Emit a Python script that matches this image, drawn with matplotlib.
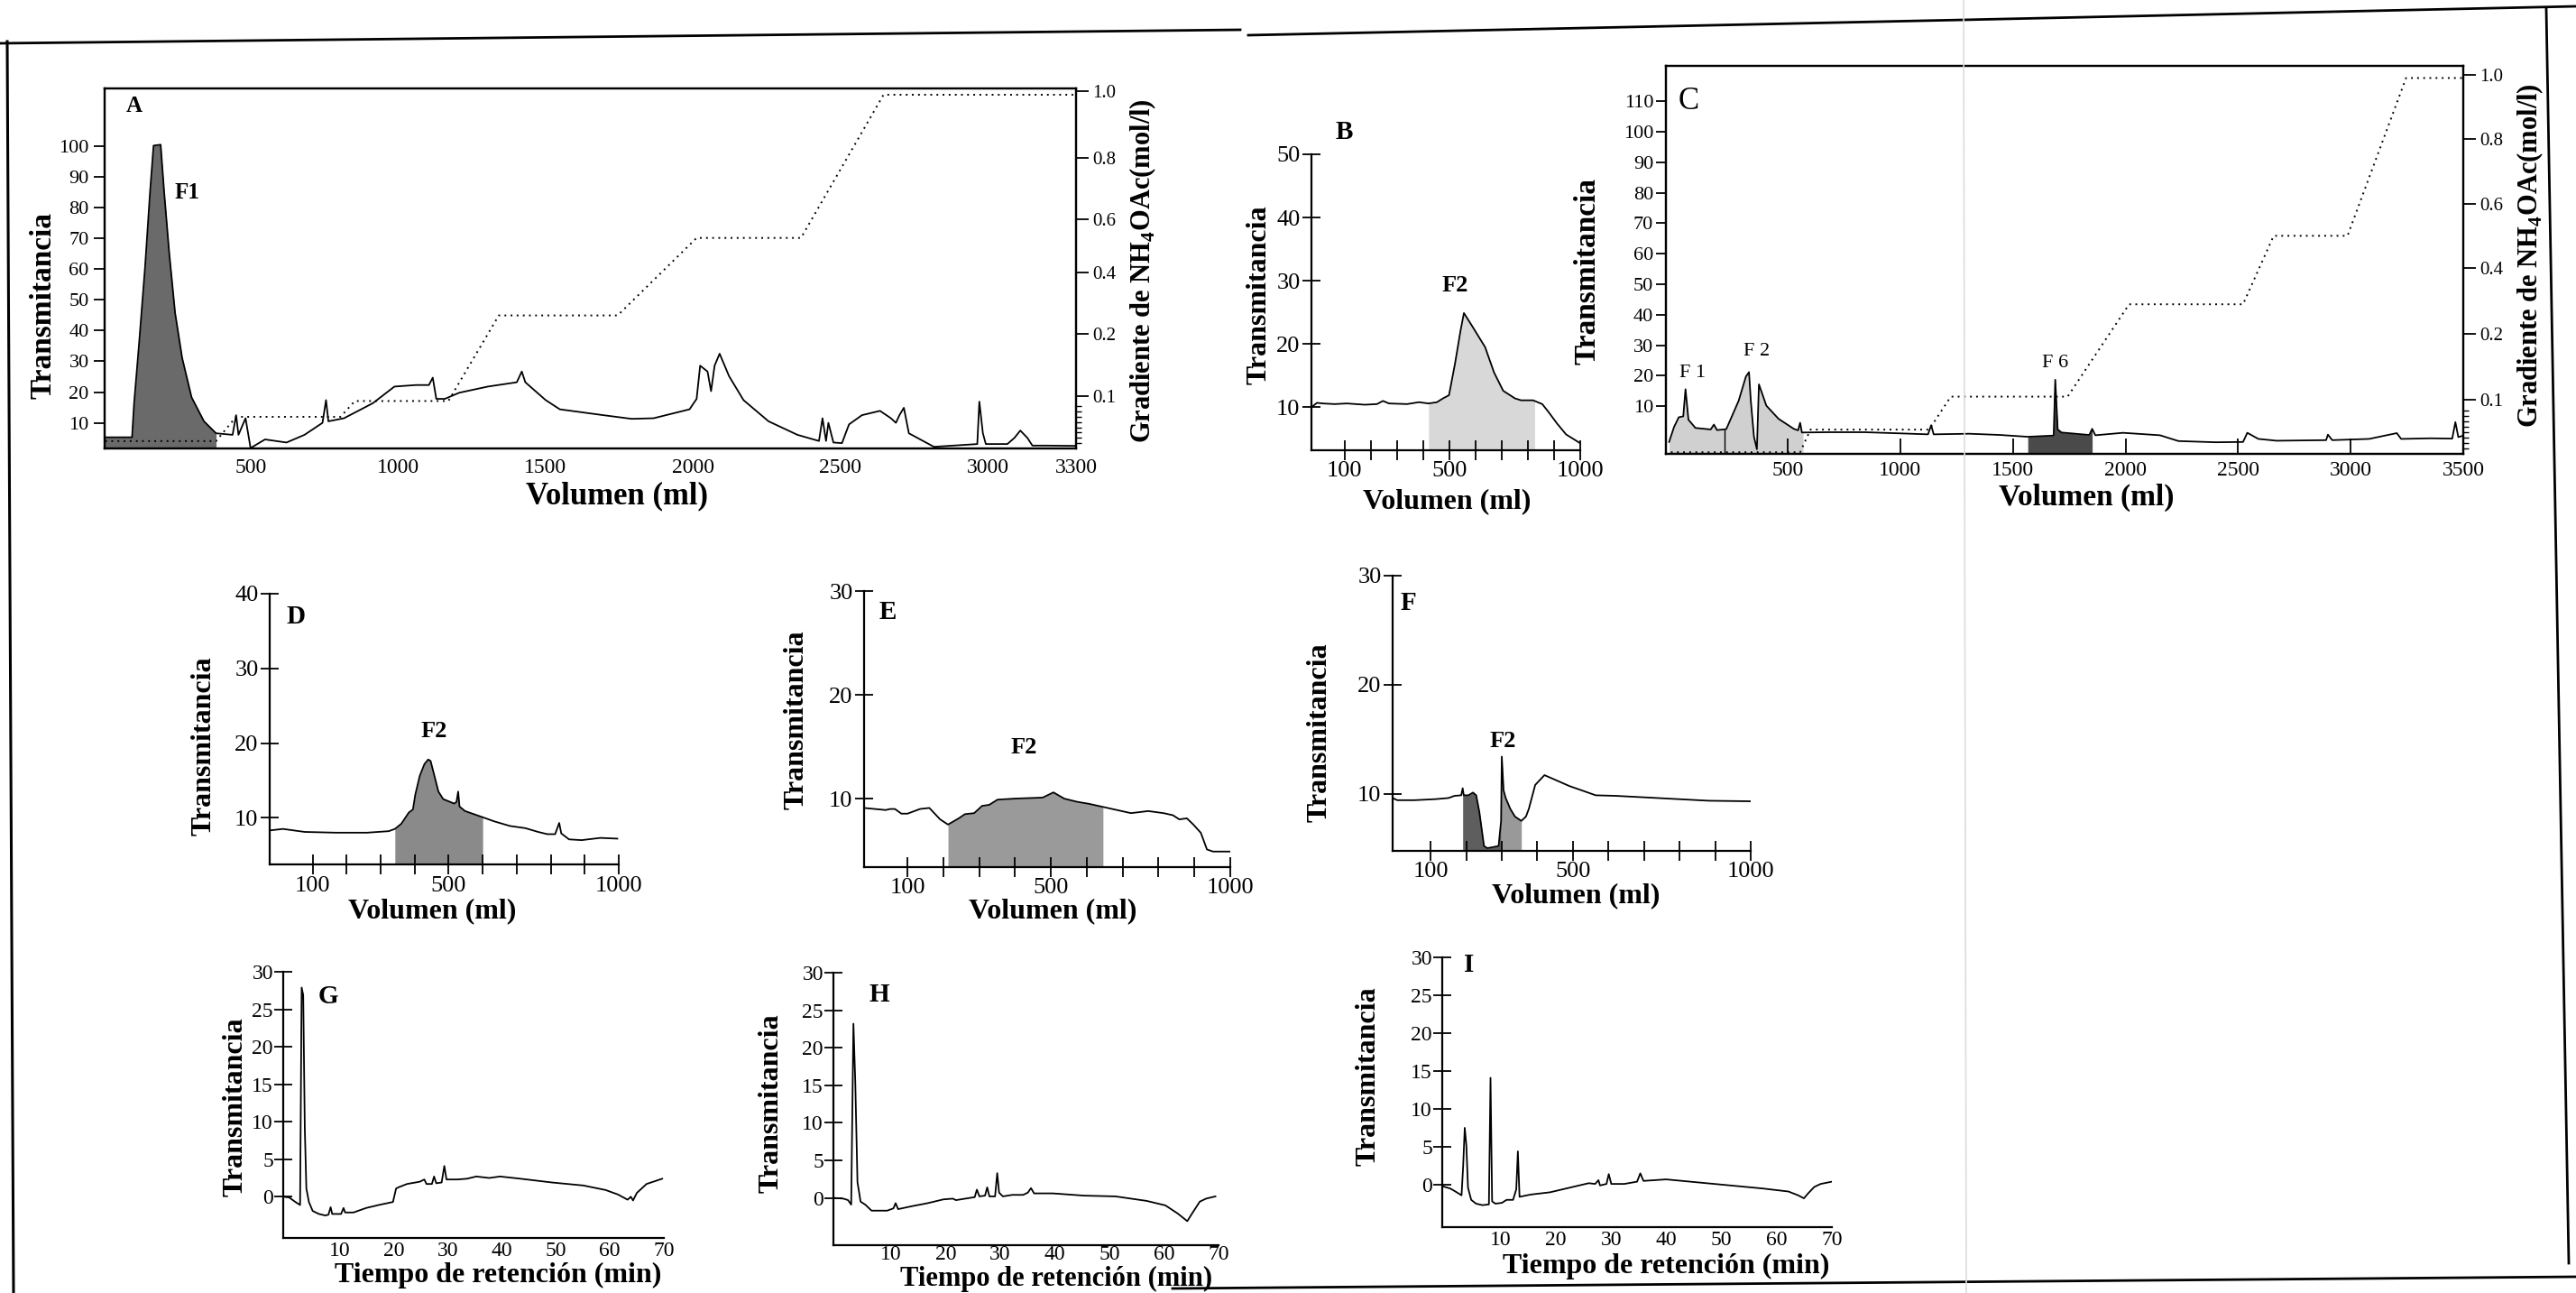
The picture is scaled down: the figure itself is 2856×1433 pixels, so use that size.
import numpy as np
import matplotlib
matplotlib.use("Agg")
import matplotlib.pyplot as plt
from matplotlib.lines import Line2D
from matplotlib.ticker import NullFormatter

plt.rcParams['font.family'] = ['Liberation Serif', 'DejaVu Serif']
plt.rcParams['mathtext.fontset'] = 'custom'
plt.rcParams['mathtext.rm'] = 'Liberation Serif'
plt.rcParams['mathtext.bf'] = 'Liberation Serif:bold'
plt.rcParams['axes.linewidth'] = 1.6

# ---------------- data ----------------
# Panel A
A_VOL = [7, 98, 105, 122, 142, 159, 171, 195, 207, 224,
         244, 268, 300, 342, 383, 439, 451, 459, 483, 500,
         549, 622, 683, 744, 756, 764, 817, 915, 988, 1061,
         1105, 1118, 1130, 1159, 1208, 1305, 1403, 1420, 1432, 1501,
         1549, 1696, 1793, 1867, 1989, 2013, 2025, 2050, 2062, 2074,
         2091, 2123, 2172, 2257, 2355, 2428, 2440, 2452, 2460, 2477,
         2506, 2530, 2574, 2635, 2672, 2689, 2701, 2716, 2733, 2818,
         2965, 2972, 2984, 2994, 3067, 3091, 3111, 3135, 3152, 3204,
         3300]
A_T = [5.3, 5.3, 16.4, 36.0, 60.5, 85.0, 100.2, 100.5, 85.0, 65.4,
       45.8, 31.1, 18.3, 10.5, 6.6, 6.1, 12.5, 6.1, 11.5, 1.8,
       4.6, 3.6, 6.1, 10.0, 17.4, 10.5, 11.5, 16.4, 21.8, 22.3,
       22.3, 24.7, 17.8, 17.8, 19.8, 21.8, 23.2, 26.7, 23.2, 17.4,
       14.4, 12.5, 11.3, 11.5, 14.4, 17.8, 28.6, 26.7, 20.3, 28.6,
       32.5, 25.2, 17.4, 10.5, 6.1, 4.1, 11.5, 4.1, 10.0, 3.6,
       3.4, 9.5, 12.5, 13.9, 11.5, 10.0, 12.5, 14.9, 6.6, 2.2,
       3.1, 16.9, 6.6, 3.1, 3.1, 5.1, 7.5, 5.1, 2.6, 2.6,
       2.5]
A_F1_RANGE = (0, 383)
A_GRAD_VOL = [7, 383, 451, 805, 854, 1171, 1342, 1745, 2013, 2367, 2647, 3300]
A_GRAD_LEVEL = [0.014, 0.014, 0.06, 0.06, 0.09, 0.09, 0.26, 0.26, 0.53, 0.53, 0.99, 0.99]
A_GRAD_TICKVALS = [0, 0.1, 0.2, 0.4, 0.6, 0.8, 1.0, 1.2]
A_GRAD_TICKFRAC = [0, 0.1464, 0.318, 0.4895, 0.636, 0.8075, 0.9916, 1.16]

# Panel B
B_VOL = [-26, -5, 17, 63, 109, 178, 224, 247, 270, 339,
         384, 421, 453, 476, 499, 522, 543, 556, 591, 637,
         671, 706, 751, 774, 820, 855, 878, 912, 946, 981, 1000]
B_T = [10.0, 10.7, 10.6, 10.5, 10.6, 10.4, 10.5, 11.0, 10.6, 10.5,
       10.8, 10.6, 10.8, 11.4, 11.9, 16.9, 22.1, 24.9, 22.6, 19.5,
       15.5, 12.6, 11.4, 11.1, 11.1, 10.5, 9.3, 7.4, 5.7, 4.8, 4.3]
B_F2_RANGE = (421, 826)

# Panel C
C_VOL = [-27, -5, 16, 36, 46, 59, 90, 158, 172, 186,
         227, 246, 282, 314, 328, 336, 350, 363, 372, 405,
         459, 527, 546, 555, 563, 678, 842, 1006, 1123, 1137,
         1148, 1306, 1443, 1566, 1681, 1688, 1699, 1716, 1839, 1852,
         1866, 1989, 2153, 2235, 2399, 2522, 2541, 2590, 2672, 2891,
         2899, 2918, 3082, 3205, 3224, 3356, 3451, 3465, 3478, 3497]
C_T = [-1.7, 3.2, 6.4, 6.7, 15.6, 5.6, 2.9, 2.4, 4.0, 2.2,
       2.5, 5.7, 11.8, 19.7, 21.2, 11.8, 0.0, -4.1, 17.2, 10.2,
       5.9, 2.6, 2.1, 4.6, 1.4, 1.5, 1.5, 1.1, 0.8, 3.8,
       0.8, 1.0, 0.6, 0.0, 0.4, 18.7, 2.4, 1.4, 0.6, 2.6,
       0.5, 1.3, 0.5, -1.4, -1.8, -1.7, 1.3, -0.7, -1.3, -1.1,
       0.7, -1.1, -0.7, 1.2, -0.7, -0.5, -0.6, 4.8, -0.1, 0.3]
C_F12_RANGE = (-27, 568)
C_F6_RANGE = (1566, 1852)
C_CUT = 221
C_GRAD_VOL = [-19, 555, 601, 1128, 1224, 1743, 2016, 2522, 2658, 2986, 3246, 3497]
C_GRAD_LEVEL = [0.003, 0.003, 0.045, 0.045, 0.105, 0.105, 0.29, 0.29, 0.50, 0.50, 0.99, 0.99]
C_GRAD_TICKVALS = [0, 0.1, 0.2, 0.4, 0.6, 0.8, 1.0, 1.2]
C_GRAD_TICKFRAC = [0, 0.139, 0.309, 0.479, 0.645, 0.811, 0.977, 1.143]

# Panel D
D_VOL = [-26, 13, 77, 169, 260, 324, 342, 361, 383, 395,
         402, 415, 429, 440, 447, 456, 470, 484, 516, 523,
         528, 532, 548, 598, 635, 680, 726, 763, 790, 813,
         825, 831, 854, 891, 946, 996]
D_T = [8.3, 8.5, 8.1, 8.0, 8.0, 8.2, 8.5, 9.2, 10.7, 11.1,
       13.1, 15.6, 17.2, 17.8, 17.6, 16.0, 13.5, 12.5, 11.9, 12.1,
       13.5, 11.5, 10.9, 10.1, 9.5, 8.9, 8.6, 8.1, 7.8, 7.8,
       9.3, 7.9, 7.1, 7.0, 7.3, 7.2]
D_F2_RANGE = (342, 600)

# Panel E
E_VOL = [-21, 9, 39, 52, 65, 83, 100, 135, 161, 191,
         213, 243, 260, 286, 308, 328, 351, 399, 477, 507,
         537, 572, 606, 645, 684, 723, 771, 814, 840, 858,
         879, 897, 918, 935, 952, 998]
E_T = [9.1, 9.0, 8.9, 9.0, 9.0, 8.55, 8.55, 9.0, 9.1, 8.0,
       7.5, 8.1, 8.5, 8.6, 9.3, 9.4, 9.9, 10.0, 10.1, 10.6,
       10.0, 9.7, 9.5, 9.2, 8.9, 8.6, 8.8, 8.6, 8.4, 8.0,
       8.1, 7.5, 6.7, 5.1, 4.9, 4.9]
E_F2_RANGE = (213, 645)

# Panel F
F_VOL = [-7, 6, 54, 115, 150, 167, 186, 190, 193, 206,
         219, 228, 237, 250, 259, 276, 291, 298, 300, 305,
         311, 324, 337, 355, 368, 376, 394, 420, 455, 490,
         525, 564, 620, 708, 795, 882, 1000]
F_T = [9.6, 9.4, 9.4, 9.5, 9.6, 9.8, 9.85, 10.5, 9.85, 9.85,
       10.1, 9.85, 8.3, 5.2, 5.0, 5.1, 5.2, 7.5, 13.4, 10.3,
       9.6, 8.6, 7.9, 7.5, 7.9, 8.6, 10.8, 11.7, 11.2, 10.7,
       10.3, 9.85, 9.8, 9.65, 9.5, 9.35, 9.3]
F_F2_RANGE_A = (190, 298)
F_F2_RANGE_B = (298, 355)

# Panel G
G_TIME = [-0.4, 0.7, 1.85, 2.72, 3.01, 3.30, 3.59, 3.88, 4.35, 5.05,
          6.21, 7.38, 7.96, 8.37, 8.66, 10.3, 10.76, 11.05, 12.6, 14.95,
          17.28, 19.9, 20.48, 21.07, 22.5, 24.85, 25.7, 26.1, 27.1, 27.5,
          27.9, 28.9, 29.4, 29.8, 31.8, 33.6, 35.3, 37.7, 39.7, 43.5,
          49.3, 55.1, 59.2, 61.5, 63.3, 63.9, 64.3, 65.0, 66.8, 69.7]
G_T = [0.0, -0.1, -0.7, -1.1, 27.9, 26.9, 9.2, 1.1, -0.7, -1.9,
       -2.3, -2.5, -2.4, -1.4, -2.3, -2.3, -1.5, -2.1, -2.1, -1.5,
       -1.1, -0.7, 1.1, 1.3, 1.7, 2.0, 2.3, 1.7, 1.7, 2.7,
       1.8, 1.9, 4.1, 2.3, 2.3, 2.4, 2.7, 2.5, 2.7, 2.4,
       1.9, 1.5, 0.9, 0.3, -0.4, 0.0, -0.5, 0.5, 1.7, 2.4]

# Panel H
H_TIME = [-0.6, 1.23, 2.09, 2.66, 3.07, 3.41, 3.81, 4.38, 5.24, 6.39,
          9.25, 10.4, 10.8, 11.26, 13.84, 16.7, 19.57, 21.29, 21.86, 23.58,
          25.3, 25.7, 26.16, 27.19, 27.59, 27.99, 29.03, 29.43, 29.77, 30.46,
          32.18, 34.18, 35.04, 35.62, 36.19, 39.63, 45.36, 51.09, 56.82, 60.26,
          62.55, 64.27, 65.13, 66.56, 67.71, 69.43]
H_T = [0.0, -0.1, -0.3, -0.9, 23.2, 15.4, 2.1, -0.5, -0.9, -1.7,
       -1.7, -1.4, -0.7, -1.5, -1.1, -0.7, -0.2, -0.1, -0.3, -0.1,
       0.1, 1.1, 0.2, 0.3, 1.4, 0.2, 0.2, 3.3, 0.7, 0.2,
       0.4, 0.4, 0.7, 1.3, 0.6, 0.6, 0.3, 0.2, -0.4, -1.0,
       -2.1, -3.1, -2.1, -0.5, -0.1, 0.2]

# Panel I
I_TIME = [-0.62, 0.83, 2.0, 2.88, 3.17, 3.46, 3.75, 4.05, 4.63, 5.5,
          6.67, 7.84, 8.13, 8.42, 9.0, 10.18, 11.05, 12.22, 12.8, 13.09,
          13.39, 15.43, 18.93, 22.43, 25.94, 27.1, 27.69, 27.98, 29.15, 29.56,
          30.02, 32.36, 34.69, 35.28, 35.86, 39.95, 45.79, 51.62, 57.46, 62.13,
          63.88, 64.93, 65.63, 66.8, 67.97, 70.0]
I_T = [-0.2, -0.5, -1.0, -1.4, 2.4, 7.5, 5.2, -0.4, -2.0, -2.5,
       -2.7, -2.6, 14.1, -2.2, -2.5, -2.4, -2.0, -2.0, -0.6, 4.4,
       -1.6, -1.3, -1.0, -0.4, 0.2, 0.1, 0.6, -0.1, 0.1, 1.4,
       0.1, 0.1, 0.4, 1.5, 0.5, 0.7, 0.3, -0.1, -0.5, -0.9,
       -1.4, -1.8, -1.2, -0.3, 0.1, 0.4]

VOL_TICKS = [100, 200, 300, 400, 500, 600, 700, 800, 900, 1000]
VOL_TICKLABELS = ['100', '', '', '', '500', '', '', '', '', '1000']
TIME_TICKS = [10, 20, 30, 40, 50, 60, 70]
HPLC_YTICKS = [0, 5, 10, 15, 20, 25, 30]
GRAD_TICKS = [0.1, 0.2, 0.4, 0.6, 0.8, 1.0]
GRAD_TICKLABELS = ['0.1', '0.2', '0.4', '0.6', '0.8', '1.0']
GRAD_MINOR = [0.01, 0.02, 0.03, 0.04, 0.05, 0.06, 0.07, 0.08]

# ---------------- figure ----------------
W, H = 2856, 1433
DPI = 100
fig = plt.figure(figsize=(W / DPI, H / DPI), dpi=DPI)
fig.patch.set_facecolor('white')


def add_ax(l, t, r, b):
    return fig.add_axes([l / W, 1 - b / H, (r - l) / W, (b - t) / H])


def ftext(x, y, s, **kw):
    return fig.text(x / W, 1 - y / H, s, **kw)


def fline(xs, ys, **kw):
    fig.add_artist(Line2D([x / W for x in xs], [1 - y / H for y in ys],
                          transform=fig.transFigure, **kw))


def fill_range(ax, x, y, rng, ybot, color):
    x = np.asarray(x, float)
    y = np.asarray(y, float)
    xs = np.concatenate([[rng[0]], x[(x > rng[0]) & (x < rng[1])], [rng[1]]])
    ys = np.interp(xs, x, y)
    ax.fill_between(xs, ys, ybot, color=color, lw=0, zorder=1)


def grad_axis(ax, vals, fracs, labelsize):
    vals = np.asarray(vals, float)
    fracs = np.asarray(fracs, float)
    fwd = lambda v: np.interp(v, vals, fracs)
    inv = lambda f: np.interp(f, fracs, vals)
    ax2 = ax.twinx()
    ax2.set_yscale('function', functions=(fwd, inv))
    ax2.set_ylim(0, float(inv(1.0)))
    ax2.set_yticks(GRAD_TICKS)
    ax2.set_yticklabels(GRAD_TICKLABELS)
    ax2.set_yticks(GRAD_MINOR, minor=True)
    ax2.yaxis.set_minor_formatter(NullFormatter())
    ax2.tick_params(axis='y', which='major', direction='out', length=10, width=1.3,
                    labelsize=labelsize, pad=3)
    ax2.tick_params(axis='y', which='minor', direction='out', length=4, width=1.0)
    for s in ax2.spines.values():
        s.set_linewidth(1.6)
    return ax2


LW = 1.3
BOLD = dict(fontweight='bold')

# ---------- Panel A ----------
axA = add_ax(116, 98, 1193, 497)
axA.set_xlim(5, 3300)
axA.set_ylim(1.67, 118.8)
fill_range(axA, A_VOL, A_T, (5, A_F1_RANGE[1]), 1.67, '#6a6a6a')
axA.plot(A_VOL, A_T, color='k', lw=LW, zorder=3)
axA.set_yticks([10, 20, 30, 40, 50, 60, 70, 80, 90, 100])
axA.set_xticks([500, 1000, 1500, 2000, 2500, 3000, 3300])
axA.tick_params(axis='y', direction='out', length=9, width=1.3, labelsize=16)
axA.tick_params(axis='x', length=0, labelsize=17, pad=8)
axA2 = grad_axis(axA, A_GRAD_TICKVALS, A_GRAD_TICKFRAC, 15)
axA2.plot(A_GRAD_VOL, A_GRAD_LEVEL, color='k', lw=1.4, linestyle=(0, (1, 2.5)))
axA.text(105, 113, 'A', fontsize=18, fontweight='bold', ha='center', va='center')
axA.text(285, 85, 'F1', fontsize=18, fontweight='bold', ha='center', va='center')
ftext(48, 338, 'Transmitancia', rotation=90, fontsize=24, ha='center', va='center', **BOLD)
ftext(1267, 300, r'Gradiente de NH$_\mathbf{4}$OAc(mol/l)', rotation=90, fontsize=22,
      ha='center', va='center', **BOLD)
ftext(684, 550, 'Volumen (ml)', fontsize=25, ha='center', va='center', **BOLD)


def small_vol_panel(box, xlim, ylim, yticks, vol, t, fills, letter, letter_xy, f2_xy,
                    ylab_xy, xlab_xy):
    ax = add_ax(*box)
    ax.set_xlim(*xlim)
    ax.set_ylim(*ylim)
    for rng, col in fills:
        fill_range(ax, vol, t, rng, ylim[0], col)
    ax.plot(vol, t, color='k', lw=LW, zorder=3)
    ax.spines['top'].set_visible(False)
    ax.spines['right'].set_visible(False)
    ax.set_yticks(yticks)
    ax.set_xticks(VOL_TICKS)
    ax.set_xticklabels(VOL_TICKLABELS)
    ax.tick_params(axis='y', direction='inout', length=14, width=1.3, labelsize=19, pad=2)
    ax.tick_params(axis='x', direction='inout', length=16, width=1.3, labelsize=19, pad=1)
    ax.text(*letter_xy, letter, fontsize=21, fontweight='bold', ha='center', va='center')
    ax.text(*f2_xy, 'F2', fontsize=19, fontweight='bold', ha='center', va='center')
    ftext(*ylab_xy, 'Transmitancia', rotation=90, fontsize=23, ha='center', va='center', **BOLD)
    ftext(*xlab_xy, 'Volumen (ml)', fontsize=23, ha='center', va='center', **BOLD)
    return ax


# ---------- Panel B ----------
small_vol_panel((1454, 171, 1752, 499), (-26, 1000), (3.2, 50), [10, 20, 30, 40, 50],
                B_VOL, B_T, [(B_F2_RANGE, '#d8d8d8')], 'B', (98, 53.5), (522, 29.3),
                (1396, 327), (1604, 556))

# ---------- Panel C ----------
axC = add_ax(1847, 73, 2731, 503)
axC.set_xlim(-41, 3500)
axC.set_ylim(-5.6, 121.6)
fill_range(axC, C_VOL, C_T, C_F12_RANGE, -5.6, '#d0d0d0')
fill_range(axC, C_VOL, C_T, C_F6_RANGE, -5.6, '#4a4a4a')
axC.vlines(C_CUT, -5.6, 2.5, color='k', lw=1.0, zorder=3)
axC.plot(C_VOL, C_T, color='k', lw=LW, zorder=3)
axC.set_yticks([10, 20, 30, 40, 50, 60, 70, 80, 90, 100, 110])
axC.set_xticks([500, 1000, 1500, 2000, 2500, 3000, 3500])
axC.tick_params(axis='y', direction='out', length=8, width=1.3, labelsize=16, pad=2)
axC.tick_params(axis='x', direction='in', length=12, width=1.3, labelsize=17, pad=6)
axC2 = grad_axis(axC, C_GRAD_TICKVALS, C_GRAD_TICKFRAC, 15)
axC2.plot(C_GRAD_VOL, C_GRAD_LEVEL, color='k', lw=1.4, linestyle=(0, (1, 2.5)))
axC.text(61, 110, 'C', fontsize=25, ha='center', va='center')
axC.text(76, 21, 'F 1', fontsize=16, ha='center', va='center')
axC.text(363, 28, 'F 2', fontsize=16, ha='center', va='center')
axC.text(1688, 24, 'F 6', fontsize=16, ha='center', va='center')
ftext(1760, 300, 'Transmitancia', rotation=90, fontsize=24, ha='center', va='center', **BOLD)
ftext(2805, 283, r'Gradiente de NH$_\mathbf{4}$OAc(mol/l)', rotation=90, fontsize=22,
      ha='center', va='center', **BOLD)
ftext(2313, 551, 'Volumen (ml)', fontsize=24, ha='center', va='center', **BOLD)

# ---------- Panel D ----------
small_vol_panel((299, 658, 686, 958), (-26, 1000), (3.75, 40), [10, 20, 30, 40],
                D_VOL, D_T, [(D_F2_RANGE, '#8a8a8a')], 'D', (52, 36.9), (456, 21.6),
                (226, 827), (479, 1010))

# ---------- Panel E ----------
small_vol_panel((958, 655, 1364, 961), (-21, 1000), (3.4, 30), [10, 20, 30],
                E_VOL, E_T, [(E_F2_RANGE, '#9a9a9a')], 'E', (44, 28), (425, 14.9),
                (883, 798), (1167, 1010))

# ---------- Panel F ----------
small_vol_panel((1544, 638, 1941, 943), (-7, 1000), (4.75, 30), [10, 20, 30],
                F_VOL, F_T, [(F_F2_RANGE_A, '#5e5e5e'), (F_F2_RANGE_B, '#999999')],
                'F', (36, 27.5), (302, 14.8), (1463, 812), (1747, 993))


# ---------- HPLC panels ----------
def hplc_panel(box, xlim, ylim, time, t, letter, letter_xy, ylab_xy, xlab_xy, xpad=3,
               xlab_size=23):
    ax = add_ax(*box)
    ax.set_xlim(*xlim)
    ax.set_ylim(*ylim)
    ax.plot(time, t, color='k', lw=LW)
    ax.spines['top'].set_visible(False)
    ax.spines['right'].set_visible(False)
    ax.set_yticks(HPLC_YTICKS)
    ax.set_xticks(TIME_TICKS)
    ax.tick_params(axis='y', direction='inout', length=14, width=1.3, labelsize=17, pad=1)
    ax.tick_params(axis='x', length=0, labelsize=17, pad=xpad)
    ax.text(*letter_xy, letter, fontsize=21, fontweight='bold', ha='center', va='center')
    ftext(*ylab_xy, 'Transmitancia', rotation=90, fontsize=23, ha='center', va='center', **BOLD)
    ftext(*xlab_xy, 'Tiempo de retención (min)', fontsize=xlab_size, ha='center',
          va='center', **BOLD)
    return ax


hplc_panel((314, 1077, 736, 1372), (-0.4, 70), (-5.5, 30), G_TIME, G_T, 'G', (8, 26.7),
           (261, 1227), (552, 1413))
hplc_panel((924, 1078, 1351, 1380), (-0.6, 70), (-6.3, 30), H_TIME, H_T, 'H', (7.8, 27),
           (855, 1223), (1171, 1417), xpad=0, xlab_size=22)
hplc_panel((1599, 1061, 2031, 1360), (-0.62, 70), (-5.6, 30), I_TIME, I_T, 'I', (4.3, 29),
           (1517, 1193), (1847, 1403))

# ---------- scanned page borders ----------
fline([0, 1375], [48, 33], color='k', lw=2.0)
fline([1384, 2177, 2856], [39, 22, 7], color='k', lw=2.0)
fline([8, 15], [46, 1433], color='k', lw=2.2)
fline([2823, 2848], [9, 1400], color='k', lw=2.0)
fline([1300, 2856], [1428, 1415], color='k', lw=2.0)
fline([2177, 2180], [0, 1433], color='#dcdcdc', lw=1.2)

fig.savefig('out.png', dpi=DPI, facecolor='white')
